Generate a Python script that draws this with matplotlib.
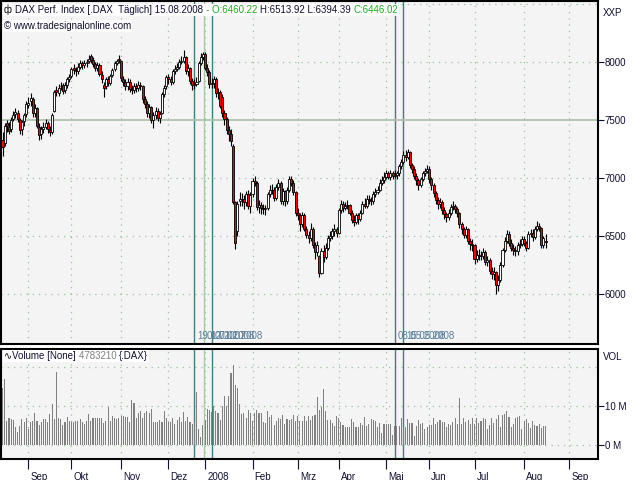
import matplotlib
matplotlib.use('Agg')
import matplotlib.pyplot as plt
import matplotlib.transforms as mtransforms
import numpy as np
import pandas as pd

plt.rcParams['font.family'] = ['Liberation Sans', 'DejaVu Sans']

# trading days (Xetra), Aug 16 2007 .. Aug 15 2008, axis runs on into Sep 2008
holidays = ['2007-12-24', '2007-12-25', '2007-12-26', '2007-12-31', '2008-01-01',
            '2008-03-21', '2008-03-24', '2008-05-01', '2008-05-12']

opens = [
    # Aug 07
    7330, 7300, 7470, 7440, 7420, 7510, 7550, 7560, 7500, 7420, 7490, 7550,
    # Sep
    7630, 7660, 7680, 7560, 7600, 7440, 7380, 7420, 7440, 7470, 7410, 7400, 7580, 7760, 7730, 7790, 7800, 7760, 7800, 7850,
    # Okt
    7880, 7950, 7930, 7920, 7960, 7990, 7970, 7990, 8010, 8050, 8020, 7980, 7950, 7970, 7890, 7800, 7790, 7850, 7820, 7890, 7940, 7990, 8030,
    # Nov
    8010, 7850, 7830, 7790, 7830, 7770, 7760, 7790, 7780, 7800, 7790, 7680, 7640, 7560, 7610, 7500, 7540, 7580, 7520, 7560, 7720, 7790,
    # Dez
    7870, 7850, 7830, 7920, 7940, 7960, 8000, 8010, 8040, 7920, 7950, 7840, 7800, 7810, 7840, 7990, 8040,
    # Jan 08
    8070, 7950, 7910, 7810, 7820, 7850, 7730, 7740, 7700, 7560, 7510, 7410, 7380, 7280, 6790, 6540, 6800, 6820, 6820, 6790, 6860, 6760,
    # Feb
    6860, 6970, 6960, 6750, 6770, 6740, 6730, 6740, 6860, 6900, 6900, 6830, 6920, 6960, 6800, 6890, 6800, 6900, 6990, 6960, 6880,
    # Mrz
    6700, 6680, 6600, 6680, 6560, 6510, 6480, 6560, 6420, 6360, 6330, 6180, 6370, 6320, 6400, 6480, 6500, 6540, 6560,
    # Apr
    6530, 6720, 6780, 6740, 6760, 6770, 6700, 6640, 6620, 6680, 6650, 6700, 6780, 6760, 6820, 6810, 6800, 6860, 6880, 6900, 6960, 6980,
    # Mai
    7010, 7040, 7010, 7040, 7020, 7030, 7040, 7100, 7140, 7200, 7180, 7220, 7110, 7080, 7020, 6980, 6940, 6990, 7040, 7060,
    # Jun
    7080, 6990, 6940, 6870, 6810, 6780, 6790, 6720, 6690, 6660, 6700, 6750, 6760, 6730, 6700, 6600, 6560, 6510, 6560, 6460, 6430,
    # Jul
    6420, 6300, 6340, 6330, 6330, 6360, 6280, 6290, 6200, 6170, 6190, 6080, 6120, 6250, 6380, 6460, 6520, 6440, 6400, 6380, 6370, 6420, 6430,
    # Aug
    6470, 6440, 6400, 6520, 6530, 6490, 6560, 6590, 6570, 6420, 6460.22,
]
closes = [
    7270, 7450, 7446, 7403, 7503, 7543, 7568, 7509, 7417, 7479, 7546, 7638,
    7650, 7690, 7560, 7600, 7450, 7370, 7420, 7440, 7470, 7420, 7400, 7540, 7740, 7740, 7780, 7790, 7750, 7800, 7850, 7870,
    7940, 7930, 7920, 7960, 7990, 7970, 7990, 8000, 8030, 8020, 7980, 7950, 7970, 7900, 7850, 7780, 7850, 7820, 7880, 7930, 7990, 8010, 8020,
    7860, 7830, 7790, 7830, 7770, 7760, 7790, 7780, 7800, 7790, 7680, 7640, 7560, 7610, 7500, 7540, 7580, 7520, 7550, 7720, 7780, 7870,
    7850, 7830, 7920, 7940, 7960, 8000, 8010, 8040, 7920, 7950, 7840, 7800, 7810, 7830, 7990, 8040, 8067,
    7950, 7910, 7810, 7820, 7850, 7730, 7740, 7620, 7560, 7510, 7410, 7380, 7320, 6790, 6440, 6780, 6820, 6820, 6790, 6860, 6760, 6850,
    6970, 6960, 6750, 6770, 6740, 6730, 6740, 6860, 6900, 6900, 6830, 6920, 6960, 6800, 6890, 6800, 6900, 6990, 6960, 6880, 6700,
    6680, 6600, 6680, 6560, 6510, 6480, 6560, 6420, 6360, 6420, 6180, 6370, 6320, 6400, 6480, 6500, 6540, 6560, 6530,
    6720, 6780, 6740, 6760, 6770, 6700, 6640, 6620, 6680, 6650, 6700, 6780, 6760, 6820, 6810, 6800, 6860, 6880, 6900, 6960, 6980, 7010,
    7040, 7010, 7040, 7020, 7030, 7040, 7100, 7140, 7200, 7180, 7220, 7110, 7080, 7020, 6980, 6940, 6990, 7040, 7060, 7080,
    6990, 6940, 6870, 6810, 6780, 6790, 6720, 6690, 6660, 6700, 6750, 6760, 6730, 6700, 6600, 6560, 6510, 6560, 6460, 6430, 6420,
    6300, 6340, 6330, 6330, 6360, 6280, 6290, 6200, 6170, 6190, 6080, 6120, 6250, 6380, 6460, 6520, 6440, 6400, 6380, 6370, 6420, 6430, 6470,
    6440, 6400, 6520, 6530, 6490, 6560, 6590, 6570, 6420, 6480, 6446.02,
]
highs = [
    7400, 7470, 7500, 7480, 7530, 7580, 7600, 7590, 7520, 7500, 7560, 7660,
    7700, 7730, 7700, 7640, 7610, 7470, 7450, 7480, 7510, 7490, 7450, 7560, 7760, 7790, 7810, 7830, 7820, 7830, 7870, 7900,
    7960, 7980, 7960, 7990, 8020, 8010, 8020, 8030, 8060, 8070, 8040, 8000, 8000, 7990, 7920, 7830, 7870, 7880, 7900, 7950, 8010, 8030, 8060,
    8020, 7880, 7850, 7860, 7850, 7800, 7820, 7820, 7840, 7830, 7800, 7710, 7660, 7640, 7620, 7570, 7610, 7600, 7580, 7740, 7800, 7890,
    7900, 7880, 7940, 7970, 7990, 8030, 8050, 8100, 8050, 7980, 7960, 7860, 7850, 7870, 8010, 8080, 8090,
    8090, 7980, 7930, 7860, 7880, 7870, 7780, 7760, 7720, 7590, 7530, 7450, 7420, 7290, 6800, 6800, 6880, 6870, 6850, 6890, 6900, 6880,
    7000, 7020, 6970, 6810, 6790, 6780, 6770, 6880, 6940, 6950, 6920, 6950, 6990, 6970, 6910, 6900, 6920, 7020, 7020, 6980, 6890,
    6740, 6700, 6710, 6700, 6590, 6540, 6610, 6580, 6450, 6460, 6340, 6400, 6420, 6440, 6510, 6540, 6570, 6600, 6580,
    6740, 6810, 6800, 6790, 6810, 6780, 6720, 6680, 6700, 6700, 6720, 6800, 6830, 6850, 6850, 6840, 6890, 6910, 6930, 6990, 7020, 7050,
    7070, 7060, 7070, 7060, 7070, 7060, 7120, 7160, 7230, 7240, 7250, 7230, 7130, 7100, 7040, 7000, 7010, 7060, 7090, 7110,
    7100, 7010, 6960, 6890, 6840, 6830, 6810, 6750, 6710, 6730, 6780, 6800, 6780, 6750, 6710, 6620, 6580, 6590, 6570, 6480, 6470,
    6430, 6380, 6390, 6370, 6400, 6380, 6330, 6310, 6230, 6230, 6200, 6160, 6280, 6400, 6490, 6550, 6540, 6470, 6430, 6410, 6450, 6470, 6500,
    6500, 6460, 6540, 6560, 6560, 6590, 6630, 6610, 6580, 6500, 6513.92,
]
lows = [
    7190, 7280, 7400, 7380, 7400, 7490, 7520, 7480, 7380, 7370, 7450, 7530,
    7600, 7620, 7530, 7530, 7430, 7330, 7340, 7390, 7420, 7390, 7360, 7380, 7570, 7710, 7710, 7760, 7720, 7730, 7780, 7830,
    7860, 7900, 7880, 7900, 7940, 7940, 7950, 7960, 7990, 7990, 7960, 7920, 7920, 7880, 7820, 7700, 7770, 7790, 7800, 7870, 7920, 7970, 7990,
    7840, 7790, 7760, 7760, 7740, 7720, 7730, 7740, 7750, 7760, 7650, 7600, 7530, 7520, 7470, 7430, 7510, 7490, 7470, 7550, 7700, 7770,
    7810, 7800, 7810, 7900, 7920, 7940, 7980, 7990, 7900, 7880, 7810, 7760, 7770, 7790, 7830, 7970, 8020,
    7930, 7880, 7780, 7780, 7780, 7700, 7680, 7600, 7530, 7460, 7380, 7320, 7280, 6780, 6390, 6500, 6760, 6760, 6730, 6760, 6730, 6700,
    6840, 6930, 6720, 6700, 6690, 6690, 6680, 6720, 6840, 6860, 6800, 6810, 6900, 6780, 6770, 6760, 6780, 6880, 6930, 6850, 6670,
    6640, 6540, 6580, 6540, 6480, 6440, 6460, 6400, 6300, 6330, 6150, 6170, 6280, 6300, 6380, 6460, 6470, 6500, 6490,
    6520, 6700, 6710, 6720, 6730, 6680, 6610, 6590, 6600, 6600, 6630, 6690, 6740, 6740, 6780, 6770, 6780, 6840, 6860, 6890, 6940, 6960,
    6990, 6990, 6980, 6990, 7000, 6990, 7020, 7080, 7120, 7150, 7160, 7090, 7040, 6990, 6940, 6900, 6920, 6970, 7020, 7040,
    6960, 6900, 6840, 6780, 6730, 6740, 6690, 6650, 6620, 6640, 6680, 6720, 6700, 6660, 6570, 6520, 6480, 6480, 6430, 6380, 6370,
    6260, 6280, 6290, 6290, 6300, 6250, 6240, 6170, 6130, 6120, 6000, 6030, 6100, 6230, 6360, 6440, 6410, 6370, 6340, 6330, 6340, 6400, 6410,
    6410, 6370, 6390, 6490, 6460, 6470, 6540, 6540, 6400, 6400, 6394.39,
]
# volume in millions
volumes = [
    14.7, 16.8, 6.2, 6.8, 6.6, 6.4, 4.5, 3.2, 4.9, 6.6, 5.9, 6.9,
    4.1, 6.0, 6.2, 8.1, 6.2, 5.2, 5.9, 6.6, 6.6, 6.0, 7.9, 10.4, 6.6, 18.6, 6.9, 6.6, 5.2, 5.9, 7.2, 6.2,
    5.9, 5.8, 6.2, 6.2, 6.6, 5.8, 5.5, 6.2, 7.9, 6.2, 6.9, 7.0, 7.0, 6.9, 7.0, 5.6, 6.2, 9.7, 6.2, 7.5, 7.0, 6.6, 7.0,
    7.5, 7.5, 7.2, 7.2, 6.0, 11.4, 10.7, 7.0, 8.1, 8.7, 7.0, 8.1, 8.7, 8.1, 9.3, 5.8, 6.0, 6.0, 6.4, 5.9, 8.6, 6.9,
    5.9, 5.8, 7.0, 5.3, 6.4, 7.2, 5.9, 8.5, 6.2, 7.2, 6.0, 5.3, 6.0, 13.6, 4.1, 2.1, 5.2,
    6.4, 9.2, 8.9, 8.5, 10.0, 8.6, 8.1, 6.4, 10.0, 12.6, 10.0, 12.6, 18.5, 20.4, 15.3, 14.7, 10.4, 7.9, 8.3, 7.0, 8.9, 8.3,
    6.2, 8.3, 8.9, 8.3, 8.3, 5.8, 5.6, 8.7, 7.2, 7.7, 5.2, 6.2, 6.9, 6.6, 7.7, 5.3, 6.6, 6.4, 6.6, 7.7, 6.2,
    7.5, 6.2, 6.2, 7.5, 6.2, 7.5, 6.4, 7.5, 7.7, 12.3, 9.0, 9.8, 14.3, 8.6, 6.4, 6.4, 5.7, 4.9, 7.5,
    6.9, 5.9, 5.2, 4.7, 4.7, 4.7, 6.6, 5.9, 4.7, 4.7, 5.7, 5.2, 7.2, 4.9, 5.3, 6.6, 6.4, 6.2, 4.5, 5.7, 3.0, 5.5,
    5.3, 5.5, 5.3, 2.6, 4.9, 4.9, 4.9, 7.0, 4.7, 4.7, 6.6, 5.7, 5.7, 2.4, 4.9, 6.4, 5.3, 5.7, 4.1, 4.7,
    5.2, 5.2, 6.9, 5.5, 5.9, 6.4, 5.9, 5.9, 4.7, 5.3, 5.2, 5.9, 6.9, 5.3, 12.1, 5.5, 6.9, 5.9, 6.4, 5.3, 7.0,
    5.3, 7.0, 5.7, 6.2, 6.9, 6.6, 4.1, 5.2, 6.9, 5.7, 6.6, 7.7, 4.7, 7.7, 7.9, 8.7, 7.2, 4.7, 5.5, 6.9, 7.2, 7.5, 4.1,
    6.2, 6.6, 5.7, 4.3, 6.2, 5.2, 4.9, 5.5, 4.4, 4.9, 4.78321,
]

month_labels = ['Sep', 'Okt', 'Nov', 'Dez', '2008', 'Feb', 'Mrz', 'Apr', 'Mai', 'Jun', 'Jul', 'Aug', 'Sep']
marker_dates = ['2007-12-19', '2008-01-01', '2008-01-07', '2008-05-08', '2008-05-15']
marker_labels = ['19.12.2007', '01.01.2008', '07.01.2008', '08.05.2008', '15.05.2008']
marker_colors = ['#3d8080', '#a8cca8', '#3d8080', '#3d8080', '#3d8080']

price_ticks = [6000, 6500, 7000, 7500, 8000]
vol_ticks = [0, 10]
vol_ticklabels = ['0 M', '10 M']

n = len(closes)
days = pd.bdate_range('2007-08-16', '2008-09-30')
days = days[~days.isin(pd.to_datetime(holidays))]
idx = np.arange(n)
o = np.array(opens); c = np.array(closes); h = np.array(highs); l = np.array(lows)

month_pos = []
for per in pd.period_range('2007-09', '2008-09', freq='M'):
    month_pos.append(int(np.argmax(days.to_period('M') == per)))

marker_pos = []
for d in pd.to_datetime(marker_dates):
    k = days.searchsorted(d)
    marker_pos.append(k if days[k] == d else k - 0.5)

W, H = 640, 480
fig = plt.figure(figsize=(6.4, 4.8), dpi=100)
fig.patch.set_facecolor('white')
bg = '#f4f4f4'
grid_c = '#9fbf9f'
txt_c = '#101030'
xlim = (-0.7, 276.3)

ax = fig.add_axes([1 / W, 1 - 344 / H, 597 / W, 343 / H])
axv = fig.add_axes([1 / W, 1 - 459 / H, 597 / W, 110 / H])

for a in (ax, axv):
    a.set_facecolor(bg)
    a.set_xlim(*xlim)
    for s in a.spines.values():
        s.set_linewidth(1.5)
        s.set_color('black')
    for m in month_pos:
        a.axvline(m, color=grid_c, lw=0.9, ls=(0, (1, 4)), zorder=0)
    for mp, mc in zip(marker_pos, marker_colors):
        a.axvline(mp, color=mc, lw=1.0, zorder=1)

# price panel
ax.set_ylim(5569, 8526)
for p in [6000, 6500, 7000, 8000, 8500]:
    ax.axhline(p, color=grid_c, lw=0.9, ls=(0, (1, 4)), zorder=0)
ax.axhline(7500, color='#a8c0a8', lw=1.2, zorder=1)

ax.vlines(idx, l, h, color='black', lw=0.8, zorder=2)
up = c >= o
ax.bar(idx, np.abs(c - o), bottom=np.minimum(o, c), width=0.95,
       color=np.where(up, 'white', '#ff0000'), edgecolor='black', linewidth=0.6, zorder=3)

ax.yaxis.tick_right()
ax.set_yticks(price_ticks)
ax.set_yticklabels([str(p) for p in price_ticks])
ax.set_xticks([])
ax.tick_params(axis='y', length=4, width=0.8, pad=1, labelsize=7, colors=txt_c, direction='out')
ax.text(1.008, 0.965, 'XXP', transform=ax.transAxes, fontsize=7, color=txt_c, va='center', ha='left')

for mp, lab in zip(marker_pos, marker_labels):
    ax.text(mp + 1.2, 0.022, lab, transform=ax.get_xaxis_transform(), fontsize=7,
            color='#5a7e98', va='center', ha='left', zorder=4)

# volume panel
axv.set_ylim(-3.6, 24.6)
for v in [0, 10, 20]:
    axv.axhline(v, color=grid_c, lw=0.9, ls=(0, (1, 4)), zorder=0)
axv.bar(idx, volumes, width=0.5, color='#808080', zorder=2)
axv.yaxis.tick_right()
axv.set_yticks(vol_ticks)
axv.set_yticklabels(vol_ticklabels)
axv.tick_params(axis='y', length=4, width=0.8, pad=1, labelsize=7, colors=txt_c)
axv.text(1.008, 0.93, 'VOL', transform=axv.transAxes, fontsize=7, color=txt_c, va='center', ha='left')

axv.set_xticks(month_pos)
axv.set_xticklabels(month_labels, ha='left')
axv.tick_params(axis='x', length=7, width=0.8, pad=2, labelsize=7, colors=txt_c)
shift = mtransforms.ScaledTranslation(2 / 100, 0, fig.dpi_scale_trans)
for lab in axv.get_xticklabels():
    lab.set_transform(lab.get_transform() + shift)

# header texts drawn piece by piece
def write_line(x_px, y_px, pieces):
    fig.canvas.draw()
    r = fig.canvas.get_renderer()
    x = x_px
    for s, col in pieces:
        t = fig.text(x / W, 1 - y_px / H, s, fontsize=7, color=col, va='center', ha='left',
                     bbox=dict(fc='white', ec='none', pad=0.6), zorder=10)
        x = t.get_window_extent(renderer=r).x1
    return x

write_line(4, 10, [('ф ', 'black'), ('DAX Perf. Index [.DAX  Täglich] 15.08.2008 ', txt_c),
                   ('- O:6460.22 ', '#22aa22'), ('H:6513.92 L:6394.39 ', txt_c),
                   ('C:6446.02', '#22aa22')])
fig.text(4 / W, 1 - 26 / H, '© www.tradesignalonline.com', fontsize=7, color=txt_c, va='center',
         ha='left', bbox=dict(fc='white', ec='none', pad=0.6), zorder=10)
write_line(4, 356, [('∿', 'black'), ('Volume [None] ', txt_c), ('4783210 ', '#808080'),
                    ('{.DAX}', txt_c)])

fig.savefig('out.png', dpi=100)
